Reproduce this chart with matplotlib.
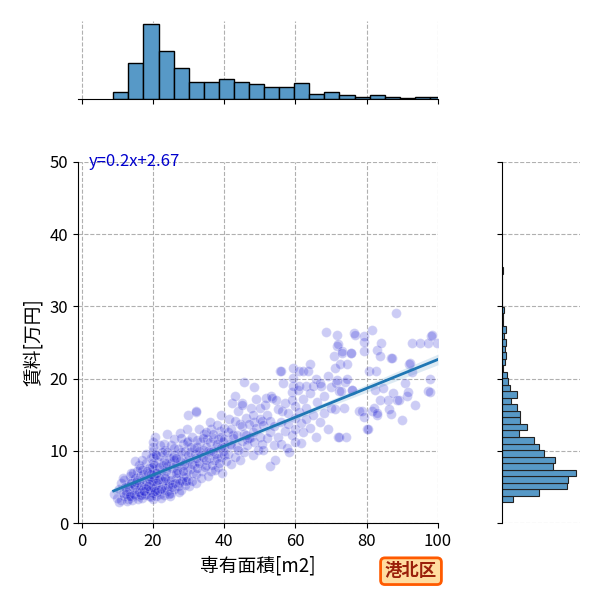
import numpy as np
import matplotlib
matplotlib.use("Agg")
import matplotlib.pyplot as plt

plt.rcParams['font.family'] = ['Noto Sans CJK JP', 'DejaVu Sans']

# 散布図の点 (専有面積[m2], 賃料[万円]) 画像から読み取り
points = [
    (9.0, 4.0), (10, 3.5), (10.5, 4.8), (11, 3.2), (11, 5.5), (11.5, 4.2), (12, 3.8), (12, 6.0),
    (12.5, 4.5), (13, 3.4), (13, 5.2), (13.5, 6.5), (13.5, 4.0), (14, 3.6), (14, 5.8), (14.5, 4.8),
    (14.5, 7.0), (15, 3.9), (15, 5.1), (15, 6.3), (15.5, 4.4), (15.5, 7.2), (16, 3.7), (16, 5.6),
    (16, 8.0), (16.5, 4.9), (16.5, 6.6), (17, 3.5), (17, 4.6), (17, 7.4), (17.5, 5.3), (17.5, 6.1),
    (18, 4.1), (18, 5.8), (18, 8.3), (18.5, 4.7), (18.5, 6.9), (19, 3.8), (19, 5.4), (19, 7.6),
    (19.5, 4.3), (19.5, 6.3), (19.5, 9.0),
    (20, 3.3), (20, 4.2), (20, 5.0), (20, 5.9), (20, 6.7), (20, 7.5), (20, 8.4), (20, 9.2),
    (20, 10.0), (20, 10.6), (20, 11.2), (20.3, 4.7), (20.3, 6.2), (20.3, 8.0), (20.5, 9.6), (20.5, 12.0),
    (21, 3.8), (21, 5.5), (21, 7.0), (21.5, 4.6), (21.5, 8.5), (22, 4.0), (22, 6.1), (22, 9.3),
    (22.5, 5.2), (22.5, 7.4), (23, 3.9), (23, 6.6), (23, 8.8), (23, 11.0), (23.5, 5.0), (23.5, 10.2),
    (24, 4.4), (24, 6.0), (24, 7.9), (24, 12.3), (24.5, 5.6), (24.5, 9.0), (25, 4.2), (25, 6.8),
    (25, 8.4), (25, 10.8), (25.5, 5.4), (25.5, 7.6), (26, 4.8), (26, 9.4), (26, 11.6), (26.5, 6.3),
    (26.5, 8.1), (27, 5.1), (27, 7.0), (27, 10.3), (27.5, 6.0), (27.5, 12.5), (28, 4.6), (28, 7.8),
    (28, 9.0), (28.5, 6.5), (28.5, 11.0), (29, 5.3), (29, 8.4), (29, 10.0), (29.5, 7.2), (29.5, 13.0),
    (30, 6.0), (30, 8.8), (30, 11.4), (30, 15.0), (30.5, 7.5), (30.5, 9.8),
    (10.5, 3.0), (11.5, 6.2), (12.2, 5.0), (12.8, 3.1), (13.2, 4.7), (13.8, 5.5), (14.2, 3.2), (14.8, 4.1),
    (15.2, 5.7), (15.8, 3.3), (16.2, 4.3), (16.8, 5.1), (17.2, 6.8), (17.8, 3.9), (18.2, 4.9), (18.8, 6.1),
    (19.2, 4.6), (19.8, 5.8), (19.8, 7.8), (21.2, 4.3), (21.8, 6.4), (22.2, 3.5), (22.8, 5.8), (22.8, 8.0),
    (23.2, 4.6), (23.8, 7.2), (24.2, 5.2), (24.8, 3.7), (25.2, 6.0), (25.8, 8.8), (26.2, 5.6), (26.8, 7.3),
    (27.2, 4.3), (27.8, 9.8), (28.2, 5.8), (28.8, 8.0), (29.2, 6.4), (29.8, 9.4), (30.2, 5.2), (30.8, 10.6),
    (31.2, 7.0), (31.8, 9.6), (32.2, 5.5), (32.8, 8.6), (33.2, 11.2), (33.8, 7.2), (34.2, 10.2), (34.8, 8.0),
    (35.2, 11.6), (35.8, 9.0), (36.2, 7.2), (36.8, 11.8), (37.2, 8.8), (37.8, 10.6), (38.2, 7.8), (38.8, 12.8),
    (39.2, 9.2), (39.8, 11.2), (24, 9.8), (26, 10.4), (22, 10.8), (28, 11.8), (21, 9.5), (18, 9.6),
    (17, 8.8), (15, 8.6), (20.8, 7.0), (20.8, 5.3), (19.6, 3.6), (14, 6.9),
    (12.6, 4.1), (13.6, 3.7), (14.6, 5.3), (15.6, 6.0), (16.6, 3.9), (17.6, 4.4), (18.6, 5.2), (19.4, 6.8),
    (20.6, 4.4), (21.4, 6.0), (22.4, 4.8), (23.4, 6.2), (24.4, 4.0), (25.4, 5.0), (26.4, 7.0), (27.4, 5.6),
    (28.4, 7.2), (29.4, 5.8), (21.6, 7.8), (23.6, 8.4), (25.6, 9.2), (27.6, 8.6), (29.6, 11.2), (31.6, 8.0),
    (33.6, 9.4), (35.6, 10.0), (37.6, 9.6), (39.6, 10.0), (41.6, 11.0), (43.6, 10.6), (45.6, 12.4), (47.6, 12.0),
    (32.4, 10.6), (34.4, 12.4), (36.4, 13.0), (38.4, 11.6), (42.4, 12.2), (44.4, 13.8), (46.4, 11.6), (48.4, 14.0),
    (16.4, 7.6), (18.4, 7.2), (22.6, 9.8), (26.6, 9.0),
    (31, 5.8), (31, 8.2), (31, 12.0), (31.5, 10.4), (32, 6.8), (32, 9.0), (32, 15.4), (32.5, 7.6),
    (32.5, 11.5), (33, 8.4), (33, 10.0), (33, 13.0), (33.5, 6.3), (34, 9.2), (34, 11.8), (34.5, 7.8),
    (35, 8.8), (35, 10.6), (35, 12.6), (35.5, 6.6), (36, 9.8), (36, 11.2), (36, 14.0), (36.5, 8.0),
    (37, 10.0), (37, 12.4), (37.5, 7.4), (38, 9.0), (38, 11.0), (38, 13.6), (38.5, 8.4), (39, 10.4),
    (39, 12.0), (39, 15.0), (39.5, 7.0), (40, 9.4), (40, 11.6), (40, 13.2), (40, 10.5), (40.5, 8.6),
    (41, 9.6), (41, 12.6), (41.5, 14.4), (42, 8.2), (42, 10.8), (42, 13.0), (42.5, 11.8), (43, 9.2),
    (43, 14.2), (43.5, 12.2), (44, 10.2), (44, 15.6), (44.5, 8.8), (45, 11.4), (45, 13.4), (45, 16.6),
    (45.5, 9.8), (46, 12.2), (46, 14.6), (46.5, 10.8), (47, 11.8), (47, 13.8), (47.5, 16.0), (48, 9.4),
    (48, 12.6), (48, 15.0), (48.5, 11.2), (49, 13.2), (49, 17.2), (49.5, 10.2), (50, 12.0), (50, 14.4),
    (50, 16.0), (50.5, 11.0),
    (42.2, 16.7), (43.1, 17.6), (44.9, 16.4), (50.6, 14.1), (32, 15.5), (45.6, 19.5), (48.5, 18.8),
    (51, 10.2), (51, 13.6), (51.5, 16.4), (51.8, 17.4), (52, 11.8), (52, 15.0), (52.8, 7.9), (53, 12.6),
    (53, 14.2), (53.2, 17.6), (53.3, 17.4), (54, 10.8), (54, 13.4), (54.2, 8.8), (54.6, 17.1), (55, 12.0),
    (55, 15.8), (55.6, 21.1), (55.9, 21.0), (56, 11.0), (56, 14.0), (56.1, 15.5), (56.6, 19.4), (57, 12.8),
    (57, 16.6), (57.5, 10.4), (58, 13.8), (58, 15.2), (58.3, 9.9), (58.9, 18.1), (59, 12.2), (59, 17.0),
    (59.3, 19.0), (59.3, 20.1), (59.3, 21.5), (60, 11.2), (60, 14.6), (60, 16.2), (60.7, 18.5), (60, 13.0),
    (61, 15.4), (61.1, 19.0), (61.1, 21.1), (61.6, 11.1), (61.7, 13.9), (62, 12.6), (62, 17.2), (62.2, 21.0),
    (62.9, 19.0), (63, 14.4), (63, 16.0), (63.6, 21.0), (64, 13.2), (64, 18.0), (64, 22.0), (64.8, 19.0),
    (65, 15.0), (65.7, 12.0), (65.7, 20.0), (66, 16.8), (66.8, 19.4), (67, 14.0), (67.1, 19.0), (68, 17.6),
    (68, 15.2), (68.7, 26.5), (69, 13.0), (69, 20.4), (70, 16.0), (70, 18.8), (70.9, 23.1),
    (71, 21.5), (71, 15.8), (71.5, 19.4), (71.6, 19.8), (71.8, 24.5), (71.8, 26.0), (71.9, 12.0), (72, 24.8),
    (72.3, 18.3), (72.3, 12.0), (72.4, 22.0), (72.7, 18.3), (73.1, 23.8), (73.2, 23.5), (73.7, 16.0), (73.8, 19.6),
    (74.2, 12.0), (74.4, 22.0), (74.5, 20.0), (75.5, 23.5), (75.7, 23.6), (75.9, 18.5), (76, 18.5), (76.5, 26.3),
    (76.6, 26.0), (77.8, 15.5), (78.8, 15.6), (79.2, 25.9), (79.3, 23.8), (79.3, 25.1), (79.3, 14.7), (80.2, 13.0),
    (80.4, 13.1), (80.6, 21.1), (81.5, 26.7), (81.6, 15.6), (82, 16.0), (82.4, 18.5), (82.5, 21.1), (82.9, 15.0),
    (83, 15.3), (83, 24.0), (83.6, 23.1), (83.8, 17.1), (83.9, 25.0), (84.7, 18.75), (86, 17.1), (86.2, 15.8),
    (86.7, 15.1), (86.7, 22.8), (87, 22.8), (87.3, 18.0), (88.1, 29.1), (88.4, 17.1), (89, 17.1), (89.8, 14.3),
    (90.7, 19.4), (91.2, 17.6), (91.7, 18.2), (91.9, 22.1), (92.2, 22.2), (92.7, 25.0), (92.8, 20.9), (93.5, 16.4),
    (95, 25.0), (97.2, 18.3), (97.3, 25.0), (97.7, 18.2), (97.8, 20.0), (98.1, 25.9), (98.2, 26.0), (99.6, 25.0),
]
area = np.array([p[0] for p in points])
rent = np.array([p[1] for p in points])

# 回帰式
slope = 0.2
intercept = 2.67

# 周辺ヒストグラム (度数)
area_bin_start = 8.9
area_bin_width = 4.23
area_counts = [7, 36, 75, 48, 31, 17, 17, 20, 17, 15, 12, 12, 16, 5, 7, 4, 2, 4, 2, 1, 2, 2]
rent_bin_start = 2.9
rent_bin_width = 0.903
rent_counts = [11, 37, 66, 67, 75, 51, 54, 42, 37, 32, 17, 25, 18, 18, 15, 9, 15, 8, 6, 5,
               1, 3, 4, 3, 4, 2, 4, 1, 1, 2, 0, 0, 0, 0, 0, 1]

ticks_x = [0, 20, 40, 60, 80, 100]
ticks_y = [0, 10, 20, 30, 40, 50]
ward = "港北区"

fig = plt.figure(figsize=(6, 6), dpi=100)
ax = fig.add_axes([0.13, 0.128, 0.6, 0.602])
ax_top = fig.add_axes([0.13, 0.8345, 0.6, 0.131], sharex=ax)
ax_right = fig.add_axes([0.836, 0.128, 0.131, 0.602], sharey=ax)

grid_kw = dict(color='#b0b0b0', linestyle='--', linewidth=0.8)

# 散布図
ax.scatter(area, rent, s=50, color='mediumblue', alpha=0.2, edgecolor='white', linewidth=0.8, zorder=2)

# 回帰直線と信頼区間
xs = np.linspace(area.min(), 100, 100)
ys = slope * xs + intercept
resid = rent - (slope * area + intercept)
s = np.sqrt(np.sum(resid ** 2) / (len(area) - 2))
se = s * np.sqrt(1 / len(area) + (xs - area.mean()) ** 2 / np.sum((area - area.mean()) ** 2))
ax.fill_between(xs, ys - 1.96 * se, ys + 1.96 * se, color='#1f77b4', alpha=0.15, linewidth=0, zorder=3)
ax.plot(xs, ys, color='#1f77b4', linewidth=2, zorder=4)

ax.set_xlim(-1, 100)
ax.set_ylim(0, 50)
ax.set_xticks(ticks_x)
ax.set_yticks(ticks_y)
ax.grid(True, **grid_kw)
ax.set_axisbelow(True)
ax.spines['top'].set_visible(False)
ax.spines['right'].set_visible(False)
ax.tick_params(labelsize=12)
ax.set_xlabel('専有面積[m2]', fontsize=13.5)
ax.set_ylabel('賃料[万円]', fontsize=13.5)
ax.text(2, 50, f'y={slope}x+{intercept}', color='mediumblue', fontsize=12, va='center', ha='left')

# 上のヒストグラム
edges_x = [area_bin_start + area_bin_width * i for i in range(len(area_counts))]
ax_top.bar(edges_x, area_counts, width=area_bin_width, align='edge', color='#5799c7',
           edgecolor='black', linewidth=1, zorder=2)
ax_top.set_ylim(0, max(area_counts) * 1.05)
ax_top.grid(True, axis='x', **grid_kw)
ax_top.set_axisbelow(True)
for sp in ['top', 'right', 'left']:
    ax_top.spines[sp].set_visible(False)
ax_top.tick_params(axis='x', labelbottom=False)
ax_top.tick_params(axis='y', left=False, labelleft=False)

# 右のヒストグラム
edges_y = [rent_bin_start + rent_bin_width * i for i in range(len(rent_counts))]
ax_right.barh(edges_y, rent_counts, height=rent_bin_width, align='edge', color='#5799c7',
              edgecolor='#222222', linewidth=0.8, zorder=2)
ax_right.set_xlim(0, max(rent_counts) * 1.05)
ax_right.grid(True, axis='y', **grid_kw)
ax_right.set_axisbelow(True)
for sp in ['top', 'right', 'bottom']:
    ax_right.spines[sp].set_visible(False)
ax_right.tick_params(axis='y', labelleft=False)
ax_right.tick_params(axis='x', bottom=False, labelbottom=False)

fig.text(0.685, 0.048, ward, fontsize=12.5, fontweight='bold', color='#9a1f0a', ha='center', va='center',
         bbox=dict(boxstyle='round,pad=0.25', facecolor='#ffdca0', edgecolor='#ff5a00', linewidth=2))

fig.savefig('out.png', dpi=100)
